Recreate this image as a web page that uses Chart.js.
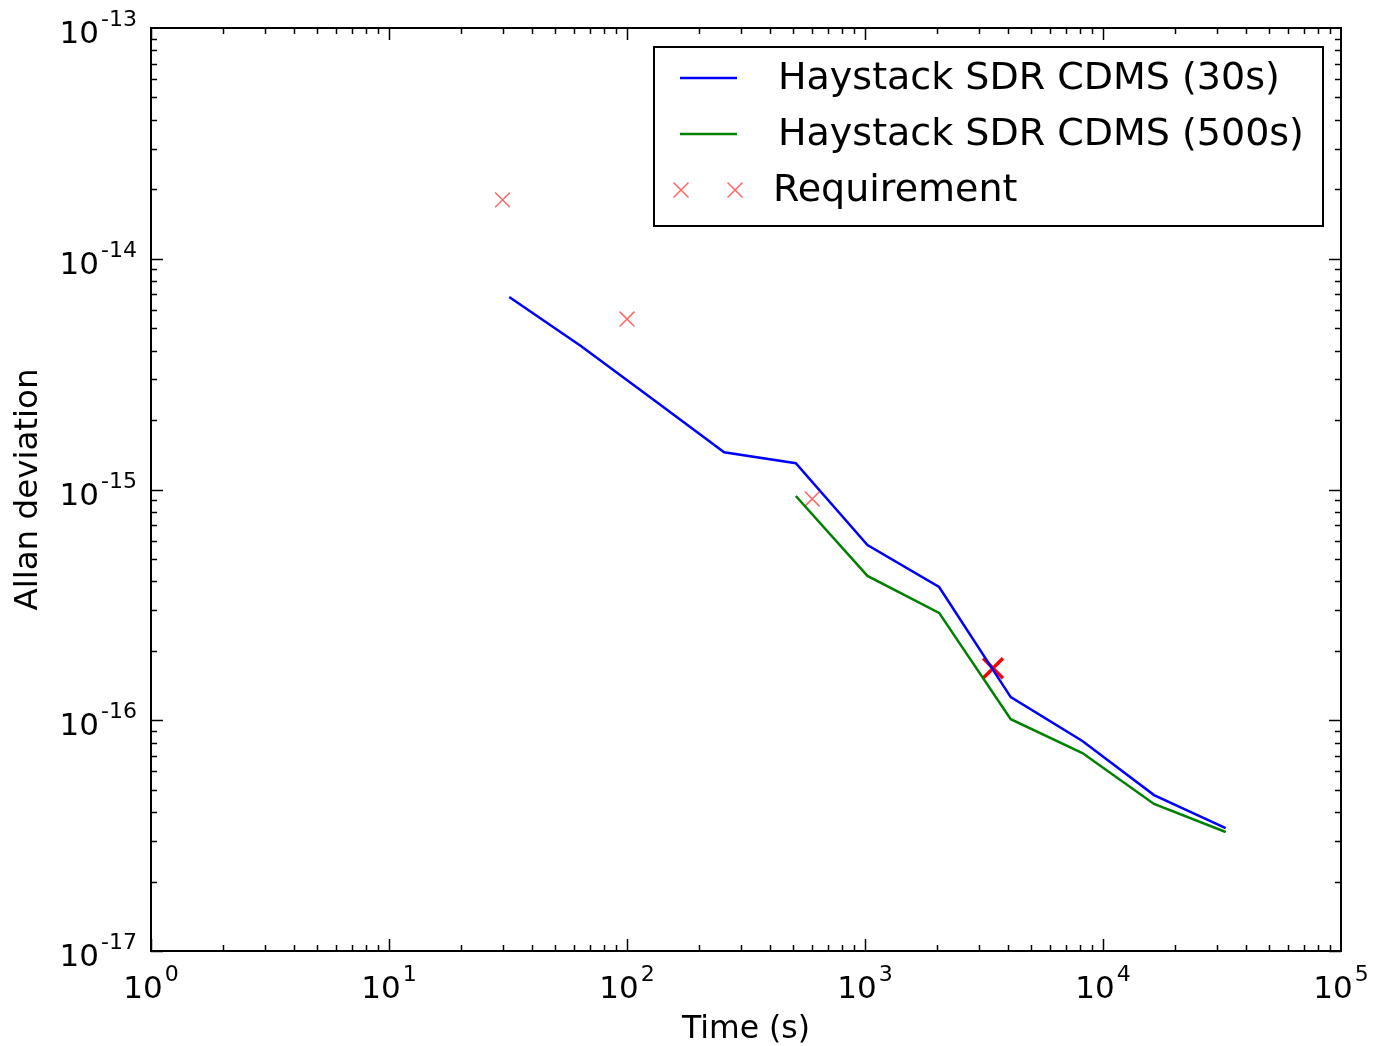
<!DOCTYPE html>
<html>
<head>
<meta charset="utf-8">
<script src="https://cdn.jsdelivr.net/npm/chart.js@4/dist/chart.umd.min.js"></script>
<style>
  html, body { margin: 0; padding: 0; background: #fff; }
  canvas { display: block; }
</style>
</head>
<body>
<canvas id="allanChart" width="1374" height="1046"></canvas>
<script>
// averaging times (s)
const tau30 = [32, 64, 128, 256, 512, 1024, 2048, 4096, 8192, 16384, 32768];
const adev30 = [6.83e-15, 4.19e-15, 2.47e-15, 1.45e-15, 1.30e-15, 5.75e-16, 3.78e-16, 1.26e-16, 8.13e-17, 4.74e-17, 3.41e-17];

const tau500 = [512, 1024, 2048, 4096, 8192, 16384, 32768];
const adev500 = [9.37e-16, 4.22e-16, 2.92e-16, 1.01e-16, 7.21e-17, 4.34e-17, 3.28e-17];

const reqTau = [30, 100, 600];
const reqAdev = [1.80e-14, 5.48e-15, 9.1e-16];

const markTau = [3450];
const markAdev = [1.68e-16];

const xDecades = [0, 1, 2, 3, 4, 5];
const yDecades = [-17, -16, -15, -14, -13];

const FONT = "'DejaVu Sans', sans-serif";
function pairs(xs, ys) {
    return xs.map((x, i) => ({ x: x, y: ys[i] }));
}

// inward tick marks on all four sides, the frame and the 10^n labels
const frameTicks = {
    id: 'frameTicks',
    afterDatasetsDraw(chart) {
        const ctx = chart.ctx;
        const a = chart.chartArea;
        const xs = chart.scales.x, ys = chart.scales.y;
        ctx.save();
        ctx.strokeStyle = '#000';
        ctx.lineWidth = 1.5;
        ctx.beginPath();
        for (let d = xDecades[0]; d < xDecades[xDecades.length - 1]; d++) {
            for (let m = 1; m <= 9; m++) {
                const px = Math.round(xs.getPixelForValue(m * Math.pow(10, d))) + 0.5;
                const len = m === 1 ? 12 : 6;
                ctx.moveTo(px, a.bottom); ctx.lineTo(px, a.bottom - len);
                ctx.moveTo(px, a.top); ctx.lineTo(px, a.top + len);
            }
        }
        for (let d = yDecades[0]; d < yDecades[yDecades.length - 1]; d++) {
            for (let m = 1; m <= 9; m++) {
                const py = Math.round(ys.getPixelForValue(m * Math.pow(10, d))) + 0.5;
                const len = m === 1 ? 12 : 6;
                ctx.moveTo(a.left, py); ctx.lineTo(a.left + len, py);
                ctx.moveTo(a.right, py); ctx.lineTo(a.right - len, py);
            }
        }
        ctx.stroke();
        ctx.lineWidth = 2;
        ctx.strokeRect(a.left, a.top, a.right - a.left, a.bottom - a.top);

        // tick labels: "10" with a raised exponent
        ctx.fillStyle = '#000';
        ctx.textBaseline = 'alphabetic';
        ctx.textAlign = 'left';
        const big = '31px ' + FONT, small = '22px ' + FONT;
        xDecades.forEach(e => {
            const px = xs.getPixelForValue(Math.pow(10, e));
            ctx.font = big;
            const w1 = ctx.measureText('10').width;
            ctx.font = small;
            const w2 = ctx.measureText(String(e)).width;
            const left = px - (w1 + w2 + 2) / 2;
            const base = a.bottom + 47;
            ctx.font = big;
            ctx.fillText('10', left, base);
            ctx.font = small;
            ctx.fillText(String(e), left + w1 + 2, base - 17);
        });
        yDecades.forEach(e => {
            const py = ys.getPixelForValue(Math.pow(10, e));
            ctx.font = small;
            const w2 = ctx.measureText(String(e)).width;
            ctx.font = big;
            const w1 = ctx.measureText('10').width;
            const right = a.left - 14;
            const base = py + 15;
            ctx.fillText('10', right - w2 - 2 - w1, base);
            ctx.font = small;
            ctx.fillText(String(e), right - w2, base - 17);
        });
        ctx.restore();
    }
};

// matplotlib style legend box
const boxLegend = {
    id: 'boxLegend',
    afterDraw(chart) {
        const ctx = chart.ctx;
        const ds = chart.data.datasets;
        ctx.save();
        ctx.fillStyle = '#fff';
        ctx.fillRect(654, 47, 669, 179);
        ctx.strokeStyle = '#000';
        ctx.lineWidth = 2;
        ctx.strokeRect(654, 47, 669, 179);
        ctx.font = '38px ' + FONT;
        ctx.textBaseline = 'middle';
        ctx.fillStyle = '#000';
        const rows = [78, 134, 190];
        for (let i = 0; i < 3; i++) {
            const d = ds[i];
            const y = rows[i];
            ctx.strokeStyle = d.borderColor;
            ctx.lineWidth = d.borderWidth;
            if (d.showLine === false) {
                [681, 735].forEach(cx => {
                    ctx.beginPath();
                    ctx.moveTo(cx - 7.5, y - 7.5); ctx.lineTo(cx + 7.5, y + 7.5);
                    ctx.moveTo(cx - 7.5, y + 7.5); ctx.lineTo(cx + 7.5, y - 7.5);
                    ctx.stroke();
                });
                ctx.fillText(d.label, 773, y + 1);
            } else {
                ctx.beginPath();
                ctx.moveTo(680, y); ctx.lineTo(737, y);
                ctx.stroke();
                ctx.fillText(d.label, 778, y + 1);
            }
        }
        ctx.restore();
    }
};

const ctx = document.getElementById('allanChart').getContext('2d');
const allanChart = new Chart(ctx, {
    type: 'scatter',
    data: {
        datasets: [{
            label: 'Haystack SDR CDMS (30s)',
            data: pairs(tau30, adev30),
            showLine: true,
            borderColor: '#0000ff',
            borderWidth: 2.5,
            pointRadius: 0,
            tension: 0
        }, {
            label: 'Haystack SDR CDMS (500s)',
            data: pairs(tau500, adev500),
            showLine: true,
            borderColor: '#008000',
            borderWidth: 2.5,
            pointRadius: 0,
            tension: 0
        }, {
            label: 'Requirement',
            data: pairs(reqTau, reqAdev),
            showLine: false,
            pointStyle: 'crossRot',
            pointRadius: 10.5,
            borderColor: 'rgba(255,0,0,0.6)',
            borderWidth: 1.5
        }, {
            label: 'marker',
            data: pairs(markTau, markAdev),
            showLine: false,
            pointStyle: 'crossRot',
            pointRadius: 14,
            borderColor: '#ff0000',
            borderWidth: 3.5
        }]
    },
    options: {
        responsive: false,
        animation: false,
        devicePixelRatio: 1,
        layout: { padding: { top: 28, right: 33, left: 0, bottom: 0 } },
        plugins: {
            legend: { display: false },
            tooltip: { enabled: false }
        },
        scales: {
            x: {
                type: 'logarithmic',
                min: 1,
                max: 1e5,
                grid: { display: false, drawTicks: false },
                border: { display: false },
                afterBuildTicks: s => { s.ticks = xDecades.map(e => ({ value: Math.pow(10, e) })); },
                afterFit: s => { s.height = 95; s.paddingLeft = 0; s.paddingRight = 0; },
                ticks: { display: false },
                title: {
                    display: true,
                    text: 'Time (s)',
                    color: '#000',
                    font: { family: FONT, size: 31.5, lineHeight: 1 },
                    padding: { top: 0, bottom: 0 }
                }
            },
            y: {
                type: 'logarithmic',
                min: 1e-17,
                max: 1e-13,
                grid: { display: false, drawTicks: false },
                border: { display: false },
                afterBuildTicks: s => { s.ticks = yDecades.map(e => ({ value: Math.pow(10, e) })); },
                afterFit: s => { s.width = 151; s.paddingTop = 0; s.paddingBottom = 0; },
                ticks: { display: false },
                title: {
                    display: true,
                    text: 'Allan deviation',
                    color: '#000',
                    font: { family: FONT, size: 32.5, lineHeight: 1 },
                    padding: { top: 12, bottom: 0 }
                }
            }
        }
    },
    plugins: [frameTicks, boxLegend]
});
</script>
</body>
</html>
